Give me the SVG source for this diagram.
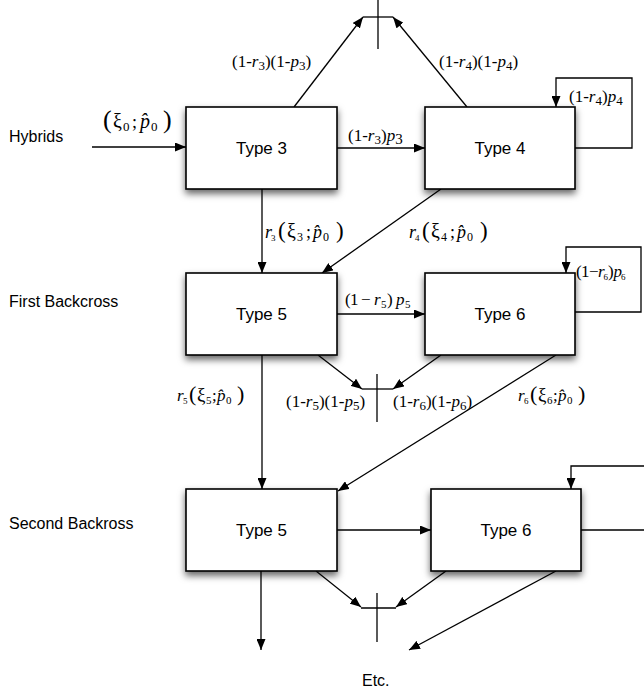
<svg xmlns="http://www.w3.org/2000/svg" width="644" height="691" viewBox="0 0 644 691">
<style>
.box{fill:#fff;stroke:#000;stroke-width:1.6;filter:url(#sh)}
.t{font-family:"Liberation Sans",Arial,sans-serif;font-size:17px;fill:#000;text-anchor:middle}
.row{font-family:"Liberation Sans",Arial,sans-serif;font-size:16px;fill:#000}
.ln{fill:none;stroke:#000;stroke-width:1.3}
.ar{marker-end:url(#ah)}
.m{font-family:"Liberation Serif","Times New Roman",serif;font-size:17px;fill:#000}
.i{font-style:italic}
.s{font-size:13px}
</style>
<defs>
<filter id="sh" x="-20%" y="-20%" width="140%" height="150%">
<feDropShadow dx="0" dy="4" stdDeviation="3.5" flood-color="#000" flood-opacity="0.6"/>
</filter>
<marker id="ah" markerWidth="11" markerHeight="9" refX="11" refY="4.5" orient="auto" markerUnits="userSpaceOnUse">
<path d="M0,0 L11,4.5 L0,9 z" fill="#000"/>
</marker>
</defs>
<rect width="644" height="691" fill="#fff"/>

<g id="row-labels">
<text class="row" x="9" y="142">Hybrids</text>
<text class="row" x="9" y="307">First Backcross</text>
<text class="row" x="9" y="529">Second Backross</text>
<text class="row" x="362" y="686">Etc.</text>
</g>

<g id="connectors">
<line class="ln ar" x1="92" y1="147" x2="186" y2="147"/>
<line class="ln ar" x1="337" y1="148" x2="425" y2="148"/>
<line class="ln ar" x1="294" y1="107" x2="363" y2="17"/>
<line class="ln ar" x1="467" y1="107" x2="393" y2="17"/>
<polyline class="ln ar" points="575,148 632,148 632,78 556,78 556,107"/>
<line class="ln ar" x1="262" y1="189" x2="262" y2="273"/>
<line class="ln ar" x1="441" y1="189" x2="322" y2="273"/>
<line class="ln ar" x1="337" y1="314" x2="425" y2="314"/>
<polyline class="ln ar" points="575,312 641,312 641,247 566,247 566,273"/>
<line class="ln ar" x1="318" y1="355" x2="362" y2="389"/>
<line class="ln ar" x1="441" y1="355" x2="393" y2="389"/>
<line class="ln ar" x1="262" y1="355" x2="262" y2="489"/>
<line class="ln ar" x1="556" y1="355" x2="338" y2="491"/>
<line class="ln ar" x1="337" y1="530" x2="431" y2="530"/>
<polyline class="ln ar" points="581,530 650,530 650,466 571,466 571,489"/>
<line class="ln ar" x1="261" y1="571" x2="261" y2="650"/>
<line class="ln ar" x1="316" y1="571" x2="361" y2="607"/>
<line class="ln ar" x1="446" y1="571" x2="396" y2="607"/>
<line class="ln ar" x1="556" y1="571" x2="409" y2="650"/>
</g>

<g id="sink-1">
<line class="ln" x1="363" y1="17" x2="393" y2="17"/>
<line class="ln" x1="378" y1="0" x2="378" y2="49"/>
</g>
<g id="sink-2">
<line class="ln" x1="362" y1="389" x2="393" y2="389"/>
<line class="ln" x1="377" y1="374" x2="377" y2="422"/>
</g>
<g id="sink-3">
<line class="ln" x1="361" y1="608" x2="396" y2="608"/>
<line class="ln" x1="377" y1="593" x2="377" y2="642"/>
</g>

<g id="type3"><rect class="box" x="186" y="107" width="151" height="82"/><text class="t" x="261.5" y="154">Type 3</text></g>
<g id="type4"><rect class="box" x="425" y="107" width="150" height="82"/><text class="t" x="500" y="154">Type 4</text></g>
<g id="type5-first"><rect class="box" x="186" y="273" width="151" height="82"/><text class="t" x="261.5" y="320">Type 5</text></g>
<g id="type6-first"><rect class="box" x="425" y="273" width="150" height="82"/><text class="t" x="500" y="320">Type 6</text></g>
<g id="type5-second"><rect class="box" x="186" y="489" width="151" height="82"/><text class="t" x="261.5" y="536">Type 5</text></g>
<g id="type6-second"><rect class="box" x="431" y="489" width="150" height="82"/><text class="t" x="506" y="536">Type 6</text></g>

<g id="labels">
<text class="m"><tspan x="103" y="128" font-size="26">(</tspan><tspan x="113" y="128" font-size="20">ξ</tspan><tspan x="123" y="131" font-size="13">0</tspan><tspan x="132" y="128" font-size="18">;</tspan><tspan class="i" x="140" y="128" font-size="20">p̂</tspan><tspan x="151" y="131" font-size="13">0</tspan><tspan x="163" y="128" font-size="26">)</tspan></text>

<text class="m" x="232" y="67">(1-<tspan class="i">r</tspan><tspan class="s" dy="3">3</tspan><tspan dy="-3">)(1-</tspan><tspan class="i">p</tspan><tspan class="s" dy="3">3</tspan><tspan dy="-3">)</tspan></text>
<text class="m" x="439" y="67">(1-<tspan class="i">r</tspan><tspan class="s" dy="3">4</tspan><tspan dy="-3">)(1-</tspan><tspan class="i">p</tspan><tspan class="s" dy="3">4</tspan><tspan dy="-3">)</tspan></text>
<text class="m" x="569" y="102">(1-<tspan class="i">r</tspan><tspan class="s" dy="3">4</tspan><tspan dy="-3">)</tspan><tspan class="i">p</tspan><tspan class="s" dy="3">4</tspan></text>
<text class="m" x="348" y="141" font-size="18">(1-<tspan class="i">r</tspan><tspan class="s" dy="3">3</tspan><tspan dy="-3">)</tspan><tspan class="i">p</tspan><tspan dy="3" font-size="15">3</tspan></text>

<text class="m"><tspan class="i" x="265" y="238" font-size="18">r</tspan><tspan x="271" y="241" font-size="9">3</tspan><tspan x="278" y="238" font-size="23">(</tspan><tspan x="287" y="238" font-size="20">ξ</tspan><tspan x="297" y="241" font-size="12">3</tspan><tspan x="306" y="238" font-size="18">;</tspan><tspan class="i" x="313" y="238" font-size="18">p̂</tspan><tspan x="323" y="241" font-size="12">0</tspan><tspan x="336" y="238" font-size="23">)</tspan></text>
<text class="m"><tspan class="i" x="409" y="238" font-size="18">r</tspan><tspan x="415" y="241" font-size="9">4</tspan><tspan x="422" y="238" font-size="23">(</tspan><tspan x="431" y="238" font-size="20">ξ</tspan><tspan x="441" y="241" font-size="12">4</tspan><tspan x="450" y="238" font-size="18">;</tspan><tspan class="i" x="457" y="238" font-size="18">p̂</tspan><tspan x="467" y="241" font-size="12">0</tspan><tspan x="480" y="238" font-size="23">)</tspan></text>

<text class="m" font-size="18"><tspan x="345" y="305">(</tspan><tspan x="350" y="305">1</tspan><tspan x="361" y="305">−</tspan><tspan class="i" x="374" y="305">r</tspan><tspan x="381" y="308" font-size="11">5</tspan><tspan x="387" y="305">)</tspan><tspan class="i" x="396" y="305">p</tspan><tspan x="405" y="308" font-size="11">5</tspan></text>
<text class="m" font-size="14"><tspan x="576" y="277">(</tspan><tspan x="581" y="277">1</tspan><tspan x="589" y="277">−</tspan><tspan class="i" x="598" y="277">r</tspan><tspan x="603.5" y="280" font-size="9">6</tspan><tspan x="608" y="277">)</tspan><tspan class="i" x="613.5" y="277">p</tspan><tspan x="621" y="280" font-size="9">6</tspan></text>

<text class="m" x="286" y="407">(1-<tspan class="i">r</tspan><tspan class="s" dy="3">5</tspan><tspan dy="-3">)(1-</tspan><tspan class="i">p</tspan><tspan class="s" dy="3">5</tspan><tspan dy="-3">)</tspan></text>
<text class="m" x="393" y="407">(1-<tspan class="i">r</tspan><tspan class="s" dy="3">6</tspan><tspan dy="-3">)(1-</tspan><tspan class="i">p</tspan><tspan class="s" dy="3">6</tspan><tspan dy="-3">)</tspan></text>

<text class="m"><tspan class="i" x="177" y="401" font-size="17">r</tspan><tspan x="183" y="404" font-size="9">5</tspan><tspan x="189" y="401" font-size="22">(</tspan><tspan x="197" y="401" font-size="19">ξ</tspan><tspan x="206" y="404" font-size="11">5</tspan><tspan x="212" y="401" font-size="17">;</tspan><tspan class="i" x="217" y="401" font-size="17">p̂</tspan><tspan x="226" y="404" font-size="11">0</tspan><tspan x="237" y="401" font-size="22">)</tspan></text>
<text class="m"><tspan class="i" x="518" y="401" font-size="17">r</tspan><tspan x="524" y="404" font-size="9">6</tspan><tspan x="530" y="401" font-size="22">(</tspan><tspan x="538" y="401" font-size="19">ξ</tspan><tspan x="547" y="404" font-size="11">6</tspan><tspan x="553" y="401" font-size="17">;</tspan><tspan class="i" x="558" y="401" font-size="17">p̂</tspan><tspan x="567" y="404" font-size="11">0</tspan><tspan x="578" y="401" font-size="22">)</tspan></text>
</g>
</svg>
